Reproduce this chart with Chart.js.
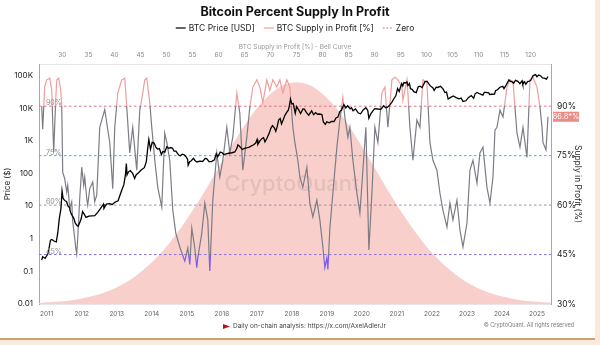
<!DOCTYPE html>
<html>
<head>
<meta charset="utf-8">
<title>Bitcoin Percent Supply In Profit</title>
<script src="https://cdn.jsdelivr.net/npm/chart.js@4.4.1/dist/chart.umd.min.js"></script>
<style>
  html, body { margin: 0; padding: 0; background: #fbe9dc; }
  #card {
    position: absolute; left: 0; top: 0;
    width: 595px; height: 338px;
    background: #fff;
    border-bottom: 2px solid #c9a47c;
  }
  #card canvas { display: block; }
</style>
</head>
<body>
<div id="card"><canvas id="sip" width="595" height="338"></canvas></div>
<script>
(function () {
  'use strict';

  // ── BTC price (USD), date -> price ──
  var PRICE_DATES = [
    '2010-11-09', '2010-11-20', '2010-12-15', '2011-01-15', '2011-02-10', '2011-02-25',
    '2011-03-15', '2011-04-10', '2011-04-25', '2011-05-10', '2011-05-28', '2011-06-09',
    '2011-06-20', '2011-07-10', '2011-07-25', '2011-08-10', '2011-08-25', '2011-09-10',
    '2011-09-25', '2011-10-10', '2011-10-25', '2011-11-15', '2011-11-25', '2011-12-10',
    '2011-12-25', '2012-01-10', '2012-01-25', '2012-02-15', '2012-03-15', '2012-04-15',
    '2012-05-15', '2012-06-15', '2012-07-15', '2012-08-15', '2012-08-20', '2012-09-15',
    '2012-10-15', '2012-11-15', '2012-12-15', '2013-01-15', '2013-01-31', '2013-02-20',
    '2013-03-15', '2013-03-31', '2013-04-10', '2013-04-17', '2013-05-01', '2013-05-20',
    '2013-06-15', '2013-07-05', '2013-07-20', '2013-08-15', '2013-09-15', '2013-10-15',
    '2013-11-05', '2013-11-20', '2013-12-01', '2013-12-18', '2014-01-05', '2014-01-25',
    '2014-02-15', '2014-03-01', '2014-03-20', '2014-04-10', '2014-04-25', '2014-05-15',
    '2014-06-05', '2014-06-25', '2014-07-15', '2014-08-05', '2014-08-20', '2014-09-10',
    '2014-09-25', '2014-10-10', '2014-10-25', '2014-11-15', '2014-12-05', '2014-12-25',
    '2015-01-10', '2015-01-15', '2015-02-01', '2015-02-15', '2015-03-10', '2015-03-25',
    '2015-04-15', '2015-05-15', '2015-06-15', '2015-07-10', '2015-07-25', '2015-08-20',
    '2015-09-15', '2015-10-15', '2015-11-04', '2015-11-20', '2015-12-15', '2016-01-05',
    '2016-01-20', '2016-02-15', '2016-03-15', '2016-04-15', '2016-05-15', '2016-06-05',
    '2016-06-17', '2016-07-05', '2016-08-02', '2016-08-20', '2016-09-15', '2016-10-15',
    '2016-11-05', '2016-11-25', '2016-12-20', '2017-01-04', '2017-01-12', '2017-02-01',
    '2017-02-25', '2017-03-10', '2017-03-25', '2017-04-15', '2017-05-10', '2017-05-25',
    '2017-06-12', '2017-07-01', '2017-07-16', '2017-08-01', '2017-08-15', '2017-09-01',
    '2017-09-15', '2017-10-01', '2017-10-20', '2017-11-08', '2017-11-25', '2017-12-05',
    '2017-12-17', '2018-01-01', '2018-01-15', '2018-02-06', '2018-02-20', '2018-03-10',
    '2018-04-01', '2018-04-25', '2018-05-10', '2018-05-30', '2018-06-25', '2018-07-25',
    '2018-08-15', '2018-09-05', '2018-09-25', '2018-10-15', '2018-11-10', '2018-11-25',
    '2018-12-15', '2018-12-30', '2019-01-25', '2019-02-20', '2019-03-15', '2019-04-05',
    '2019-04-25', '2019-05-15', '2019-06-01', '2019-06-26', '2019-07-15', '2019-08-05',
    '2019-08-30', '2019-09-15', '2019-09-30', '2019-10-26', '2019-11-25', '2019-12-18',
    '2020-01-15', '2020-02-12', '2020-03-01', '2020-03-13', '2020-04-01', '2020-04-30',
    '2020-05-15', '2020-06-15', '2020-07-15', '2020-08-15', '2020-09-05', '2020-09-25',
    '2020-10-21', '2020-11-10', '2020-11-30', '2020-12-20', '2021-01-08', '2021-01-25',
    '2021-02-10', '2021-02-21', '2021-03-01', '2021-03-13', '2021-04-01', '2021-04-14',
    '2021-04-25', '2021-05-10', '2021-05-20', '2021-06-10', '2021-06-25', '2021-07-20',
    '2021-08-10', '2021-08-30', '2021-09-20', '2021-10-20', '2021-11-10', '2021-11-28',
    '2021-12-15', '2022-01-10', '2022-01-24', '2022-02-15', '2022-03-01', '2022-03-30',
    '2022-04-25', '2022-05-15', '2022-06-01', '2022-06-18', '2022-07-10', '2022-08-10',
    '2022-09-10', '2022-10-10', '2022-11-01', '2022-11-21', '2022-12-20', '2023-01-15',
    '2023-02-15', '2023-03-10', '2023-03-25', '2023-04-15', '2023-05-15', '2023-06-15',
    '2023-06-30', '2023-07-15', '2023-08-15', '2023-08-25', '2023-09-15', '2023-10-15',
    '2023-10-25', '2023-11-15', '2023-12-10', '2024-01-10', '2024-01-22', '2024-02-15',
    '2024-03-13', '2024-03-25', '2024-04-15', '2024-05-01', '2024-05-20', '2024-06-15',
    '2024-07-05', '2024-07-28', '2024-08-05', '2024-08-25', '2024-09-06', '2024-09-28',
    '2024-10-15', '2024-10-29', '2024-11-12', '2024-11-22', '2024-12-17', '2024-12-30',
    '2025-01-20', '2025-02-10', '2025-02-28', '2025-03-15', '2025-04-08', '2025-04-23'
  ];
  var PRICE_USD = [
    0.22, 0.28, 0.25, 0.35, 0.9, 0.95,
    0.85, 0.8, 1.5, 4, 8.5, 29,
    17, 14.5, 13.8, 10, 9, 6,
    5, 4.2, 3, 2.5, 2.4, 3.1,
    4, 6.8, 5.8, 4.5, 4.9, 5,
    5.1, 6.4, 8.5, 11.5, 8.5, 11.5,
    11.8, 11.2, 13.3, 14.5, 20, 29,
    46, 93, 200, 90, 110, 122,
    100, 70, 90, 105, 130, 150,
    230, 600, 1100, 550, 900, 850,
    620, 560, 580, 380, 470, 450,
    650, 590, 620, 590, 480, 480,
    410, 360, 350, 390, 370, 320,
    270, 180, 230, 240, 290, 250,
    225, 238, 232, 290, 285, 230,
    230, 260, 400, 325, 450, 430,
    380, 400, 415, 430, 455, 580,
    750, 670, 540, 580, 610, 640,
    700, 740, 850, 1100, 780, 980,
    1180, 1250, 930, 1190, 1750, 2400,
    2900, 2500, 1950, 2750, 4300, 4800,
    3300, 4300, 6000, 7400, 8700, 11600,
    19000, 13500, 13800, 7000, 11200, 9000,
    6800, 9500, 9300, 7400, 6100, 8300,
    6300, 7300, 6500, 6600, 6400, 3800,
    3200, 3800, 3550, 3900, 3900, 5000,
    5300, 8000, 8600, 12900, 10200, 11800,
    9500, 10300, 8300, 9500, 7100, 6700,
    8800, 10300, 8600, 4900, 6600, 8700,
    9700, 9400, 9200, 11800, 10200, 10700,
    12800, 15300, 19400, 23800, 40000, 32300,
    46000, 57000, 48000, 61000, 59000, 63500,
    49000, 57000, 40000, 37000, 32000, 29800,
    45000, 47000, 43000, 65000, 67000, 56000,
    48000, 42000, 35000, 44000, 43000, 47000,
    39000, 30000, 31000, 19000, 21000, 23500,
    21000, 19300, 20400, 16000, 16800, 20900,
    24300, 20100, 27500, 30300, 27200, 25100,
    30400, 30200, 29300, 26000, 26600, 27000,
    34400, 36500, 43800, 46500, 39800, 51800,
    73000, 67000, 63500, 58000, 71000, 66000,
    56000, 69000, 54000, 64000, 54000, 65800,
    67000, 72300, 88000, 99000, 106000, 92000,
    104000, 97000, 84000, 83000, 77000, 93500
  ];

  // ── BTC supply in profit (%), decimal year -> percent ──
  var SUPPLY_YEARS = [
    2010.857, 2010.886, 2010.943, 2011.000, 2011.086, 2011.143, 2011.200, 2011.257,
    2011.286, 2011.343, 2011.400, 2011.429, 2011.457, 2011.514, 2011.571, 2011.600,
    2011.657, 2011.714, 2011.743, 2011.800, 2011.829, 2011.857, 2011.886, 2011.943,
    2012.000, 2012.057, 2012.086, 2012.143, 2012.171, 2012.229, 2012.314, 2012.371,
    2012.429, 2012.514, 2012.657, 2012.800, 2012.886, 2012.943, 2013.029, 2013.143,
    2013.229, 2013.286, 2013.371, 2013.457, 2013.571, 2013.657, 2013.743, 2013.800,
    2013.857, 2013.943, 2014.000, 2014.086, 2014.171, 2014.286, 2014.371, 2014.429,
    2014.514, 2014.600, 2014.686, 2014.800, 2014.943, 2015.029, 2015.086, 2015.143,
    2015.229, 2015.286, 2015.314, 2015.429, 2015.514, 2015.600, 2015.657, 2015.743,
    2015.857, 2015.943, 2016.029, 2016.143, 2016.229, 2016.314, 2016.429, 2016.514,
    2016.600, 2016.714, 2016.800, 2016.886, 2017.000, 2017.086, 2017.171, 2017.286,
    2017.371, 2017.457, 2017.571, 2017.657, 2017.743, 2017.857, 2017.943, 2018.029,
    2018.086, 2018.171, 2018.229, 2018.314, 2018.429, 2018.514, 2018.600, 2018.714,
    2018.800, 2018.886, 2018.943, 2019.000, 2019.029, 2019.086, 2019.171, 2019.286,
    2019.371, 2019.457, 2019.514, 2019.600, 2019.657, 2019.743, 2019.857, 2019.943,
    2020.029, 2020.114, 2020.200, 2020.286, 2020.371, 2020.457, 2020.571, 2020.657,
    2020.743, 2020.857, 2020.943, 2021.029, 2021.143, 2021.171, 2021.286, 2021.314,
    2021.371, 2021.457, 2021.571, 2021.657, 2021.743, 2021.857, 2021.943, 2022.029,
    2022.143, 2022.229, 2022.314, 2022.429, 2022.514, 2022.600, 2022.714, 2022.800,
    2022.886, 2023.000, 2023.086, 2023.171, 2023.286, 2023.371, 2023.457, 2023.571,
    2023.657, 2023.743, 2023.800, 2023.857, 2023.943, 2024.029, 2024.143, 2024.229,
    2024.314, 2024.429, 2024.514, 2024.600, 2024.714, 2024.800, 2024.886, 2025.000,
    2025.086, 2025.143, 2025.171, 2025.257, 2025.314
  ];
  var SUPPLY_PCT = [
    90, 83, 96, 98, 98.5, 95, 76, 92,
    98, 98.5, 95, 90, 70, 68, 64, 66,
    59, 61, 55, 50, 47, 45.2, 50, 62,
    71.5, 66, 68.5, 62, 60, 65, 67, 61,
    63, 83.6, 89, 79, 65, 83.6, 94, 98,
    98.5, 89.7, 75.8, 83.6, 70.6, 88.8, 94, 98,
    98.5, 91, 83.6, 73.6, 65.4, 59.4, 81.8, 79,
    73.6, 58.5, 51.5, 47.3, 43, 47, 42, 53,
    47, 41, 44, 51.5, 60.6, 55.5, 40, 61.5,
    75.8, 68.5, 73.6, 83.6, 75.8, 80.6, 94, 87.9,
    70.6, 80.6, 89.7, 95.8, 98, 95.8, 91, 98,
    94.8, 98, 95.8, 98, 94, 98, 95.8, 83.6,
    79, 73.6, 68.5, 65.4, 71.5, 60.6, 56.4, 61.5,
    55.5, 47.3, 41, 44, 40.5, 53, 63.6, 77.6,
    85.8, 92.7, 86.7, 80.6, 83.6, 73.6, 63.6, 57.6,
    70.6, 83.6, 46.4, 63.6, 83.6, 79, 94, 95.8,
    83.6, 98, 98.8, 98, 95.8, 91.8, 98, 94,
    83.6, 73.6, 85.8, 83.6, 98, 97, 79, 73.6,
    70.6, 63.6, 58.5, 53.3, 60.6, 55.5, 61.5, 52.4,
    47.3, 54.5, 70.6, 73.6, 66.7, 75.8, 77.6, 65.4,
    60.6, 68.5, 82.7, 83.6, 88.8, 86.7, 95.8, 98,
    97.5, 81.8, 77.6, 83.6, 74.5, 98, 98.8, 95.8,
    89.7, 83.6, 79, 76.7, 86.8
  ];

  // ── Bell curve: supply-in-profit bucket (top axis) -> height on % axis ──
  var BELL_BUCKET = [
    25, 27.5, 30, 32.5, 35, 37.5, 40, 42.5, 45, 47.5, 50, 52.5, 55, 57.5, 60, 62.5, 65, 67.5, 70, 72.5,
    75, 77.5, 80, 82.5, 85, 87.5, 90, 92.5, 95, 97.5, 100, 102.5, 105, 107.5, 110, 112.5, 115, 117.5,
    120, 122.5, 125
  ];
  var BELL_HEIGHT = [
    30.3, 30.5, 30.8, 31.3, 32.1, 33.2, 34.7, 36.8, 39.6, 43.1, 47.4, 52.5, 58.3, 64.6, 71.3, 77.9, 84.2, 89.6, 93.7, 96.4,
    97.3, 96.4, 93.7, 89.6, 84.2, 77.9, 71.3, 64.6, 58.3, 52.5, 47.4, 43.1, 39.6, 36.8, 34.7, 33.2, 32.1, 31.3,
    30.8, 30.5, 30.3
  ];

  // ── Reference levels on the % axis ──
  var LEVELS = [90, 75, 60, 45];
  var LEVEL_LABELS = ['90%', '75%', '60%', '45%'];
  var LEVEL_COLORS = ['#e2707f', '#3fb0ea', '#9c8aae', '#8a6ee0'];

  // ── Axis ticks ──
  var YEAR_TICKS = [2011, 2012, 2013, 2014, 2015, 2016, 2017, 2018, 2019, 2020, 2021, 2022, 2023, 2024, 2025];
  var BELL_TICKS = [30, 35, 40, 45, 50, 55, 60, 65, 70, 75, 80, 85, 90, 95, 100, 105, 110, 115, 120];
  var PRICE_TICKS = [0.01, 0.1, 1, 10, 100, 1000, 10000, 100000];
  var PRICE_TICK_LABELS = ['0.01', '0.1', '1', '10', '100', '1K', '10K', '100K'];
  var PCT_TICKS = [30, 45, 60, 75, 90];
  var LAST_LABEL = '86.8*%';

  // ── Axis ranges ──
  var X_MIN = 2010.78, X_MAX = 2025.4;
  var BELL_MIN = 25.5, BELL_MAX = 123.9;

  var COLORS = {
    price:    '#000000',
    high:     '#f29c9c',
    mid:      '#7c7c85',
    low:      '#7b5cf0',
    bell:     '#f8cfca',
    zero:     '#e06f7a',
    text:     '#222222',
    muted:    '#8a8a8a',
    axis:     '#a8a8a8',
    frame:    '#e6e6e6',
    badge:    '#ec8a85'
  };

  var FONT = 'Inter, "Noto Sans", "DejaVu Sans", sans-serif';
  Chart.defaults.font.family = FONT;

  function toYear(s) {
    var p = s.split('-');
    return +p[0] + (+p[1] - 1) / 12 + (+p[2] - 1) / 365;
  }

  function pairs(xs, ys) {
    var out = [];
    for (var i = 0; i < xs.length; i++) out.push({ x: xs[i], y: ys[i] });
    return out;
  }

  function fixedTicks(values) {
    return function (scale) {
      scale.ticks = values.map(function (v) { return { value: v }; });
    };
  }

  // Supply line: pink above 90%, grey in between, purple below 45%
  function supplyColor(ctx) {
    var chart = ctx.chart, area = chart.chartArea;
    if (!area) return COLORS.mid;
    var s = chart.scales.y2;
    var h = area.bottom - area.top;
    var a = Math.min(1, Math.max(0, (s.getPixelForValue(90) - area.top) / h));
    var b = Math.min(1, Math.max(0, (s.getPixelForValue(45) - area.top) / h));
    var g = chart.ctx.createLinearGradient(0, area.top, 0, area.bottom);
    g.addColorStop(0, COLORS.high);
    g.addColorStop(a, COLORS.high);
    g.addColorStop(a, COLORS.mid);
    g.addColorStop(b, COLORS.mid);
    g.addColorStop(b, COLORS.low);
    g.addColorStop(1, COLORS.low);
    return g;
  }

  var datasets = [
    {
      label: 'BTC Price [USD]',
      data: pairs(PRICE_DATES.map(toYear), PRICE_USD),
      xAxisID: 'x', yAxisID: 'y',
      borderColor: COLORS.price,
      borderWidth: 1.3,
      pointRadius: 0,
      tension: 0,
      order: 1
    },
    {
      label: 'BTC Supply in Profit [%]',
      data: pairs(SUPPLY_YEARS, SUPPLY_PCT),
      xAxisID: 'x', yAxisID: 'y2',
      borderColor: supplyColor,
      borderWidth: 1.2,
      pointRadius: 0,
      tension: 0,
      order: 2
    }
  ];

  for (var li = 0; li < LEVELS.length; li++) {
    datasets.push({
      label: 'level ' + LEVEL_LABELS[li],
      data: [{ x: X_MIN, y: LEVELS[li] }, { x: X_MAX, y: LEVELS[li] }],
      xAxisID: 'x', yAxisID: 'y2',
      borderColor: LEVEL_COLORS[li],
      borderWidth: 1,
      borderDash: [2.5, 2.5],
      pointRadius: 0,
      order: 5
    });
  }

  datasets.push({
    label: 'Bell',
    data: pairs(BELL_BUCKET, BELL_HEIGHT),
    xAxisID: 'x2', yAxisID: 'y2',
    borderColor: COLORS.bell,
    backgroundColor: COLORS.bell,
    borderWidth: 0,
    fill: 'start',
    pointRadius: 0,
    tension: 0.4,
    cubicInterpolationMode: 'monotone',
    order: 10
  });

  // Legend entries drawn above the bell-curve axis
  var LEGEND = [
    { text: 'BTC Price [USD]', color: COLORS.price, dash: [] },
    { text: 'BTC Supply in Profit [%]', color: COLORS.high, dash: [] },
    { text: 'Zero', color: COLORS.zero, dash: [2, 1.5] }
  ];

  var overlay = {
    id: 'overlay',
    afterDatasetDraw: function (chart, args) {
      if (chart.data.datasets[args.index].label !== 'Bell') return;
      var ctx = chart.ctx, area = chart.chartArea;
      ctx.save();
      ctx.font = '500 22px ' + FONT;
      ctx.fillStyle = 'rgba(110,110,110,0.16)';
      ctx.textAlign = 'center';
      ctx.textBaseline = 'middle';
      ctx.fillText('CryptoQuant', (area.left + area.right) / 2 - 3, (area.top + area.bottom) / 2);
      ctx.restore();
    },
    afterDatasetsDraw: function (chart) {
      var ctx = chart.ctx, area = chart.chartArea, s = chart.scales.y2;
      ctx.save();
      ctx.font = '7px ' + FONT;
      ctx.fillStyle = '#8c8c8c';
      ctx.textAlign = 'left';
      ctx.textBaseline = 'middle';
      for (var i = 0; i < LEVELS.length; i++) {
        ctx.fillText(LEVEL_LABELS[i], area.left + 7, s.getPixelForValue(LEVELS[i]) - 3);
      }
      ctx.restore();
    },
    afterDraw: function (chart) {
      var ctx = chart.ctx, area = chart.chartArea, s = chart.scales.y2;
      ctx.save();

      // legend
      ctx.font = '8.5px ' + FONT;
      ctx.textBaseline = 'middle';
      ctx.textAlign = 'left';
      var lineW = 10, gap = 3, itemGap = 9, total = 0, k;
      for (k = 0; k < LEGEND.length; k++) {
        total += lineW + gap + ctx.measureText(LEGEND[k].text).width + (k ? itemGap : 0);
      }
      var lx = (area.left + area.right) / 2 - total / 2, ly = 28;
      for (k = 0; k < LEGEND.length; k++) {
        var it = LEGEND[k];
        ctx.strokeStyle = it.color;
        ctx.lineWidth = 1.2;
        ctx.setLineDash(it.dash);
        ctx.beginPath();
        ctx.moveTo(lx, ly);
        ctx.lineTo(lx + lineW, ly);
        ctx.stroke();
        ctx.setLineDash([]);
        ctx.fillStyle = COLORS.text;
        ctx.fillText(it.text, lx + lineW + gap, ly);
        lx += lineW + gap + ctx.measureText(it.text).width + itemGap;
      }

      // last-value badge on the % axis
      var last = SUPPLY_PCT[SUPPLY_PCT.length - 1];
      var by = s.getPixelForValue(last);
      ctx.fillStyle = COLORS.badge;
      ctx.fillRect(area.right + 2, by - 5, 26, 10);
      ctx.fillStyle = '#ffffff';
      ctx.font = '7.5px ' + FONT;
      ctx.textAlign = 'center';
      ctx.fillText(LAST_LABEL, area.right + 15, by + 0.5);

      // footer
      ctx.fillStyle = '#b3171b';
      ctx.beginPath();
      ctx.moveTo(223, 324);
      ctx.lineTo(230, 326.5);
      ctx.lineTo(223, 329);
      ctx.closePath();
      ctx.fill();
      ctx.font = '6.5px ' + FONT;
      ctx.fillStyle = '#444';
      ctx.textAlign = 'left';
      ctx.fillText('Daily on-chain analysis: https://x.com/AxelAdlerJr', 233, 326.5);
      ctx.font = '5.5px ' + FONT;
      ctx.fillStyle = '#7a7a7a';
      ctx.textAlign = 'right';
      ctx.fillText('\u00a9 CryptoQuant. All rights reserved', 574, 325);
      ctx.restore();
    }
  };

  new Chart(document.getElementById('sip').getContext('2d'), {
    type: 'line',
    data: { datasets: datasets },
    plugins: [overlay],
    options: {
      responsive: false,
      animation: false,
      devicePixelRatio: 1,
      layout: { padding: { left: 0, right: 0, top: 0, bottom: 18 } },
      plugins: {
        legend: { display: false },
        tooltip: { enabled: false },
        title: {
          display: true,
          fullSize: false,
          text: 'Bitcoin Percent Supply In Profit',
          color: '#111',
          font: { size: 12.5, weight: 'bold' },
          padding: { top: 4.5, bottom: 2 }
        }
      },
      scales: {
        x: {
          type: 'linear',
          position: 'bottom',
          min: X_MIN, max: X_MAX,
          afterBuildTicks: fixedTicks(YEAR_TICKS),
          afterFit: function (s) { s.height = 16; },
          ticks: {
            color: '#666', font: { size: 6.5 }, padding: 6,
            autoSkip: false, maxRotation: 0,
            callback: function (v) { return String(v); }
          },
          grid: { display: false, drawTicks: false },
          border: { display: true, color: COLORS.frame }
        },
        x2: {
          type: 'linear',
          position: 'top',
          min: BELL_MIN, max: BELL_MAX,
          afterBuildTicks: fixedTicks(BELL_TICKS),
          afterFit: function (s) { s.height = 42.5; },
          ticks: {
            color: COLORS.muted, font: { size: 6.5 }, padding: 5,
            autoSkip: false, maxRotation: 0,
            callback: function (v) { return String(v); }
          },
          title: {
            display: true,
            text: 'BTC Supply in Profit [%] - Bell Curve',
            color: '#999',
            font: { size: 6.5 },
            padding: { top: 21.6, bottom: 0 }
          },
          grid: { display: false, drawTicks: false },
          border: { display: true, color: COLORS.frame }
        },
        y: {
          type: 'logarithmic',
          position: 'left',
          min: 0.01, max: 225000,
          afterBuildTicks: fixedTicks(PRICE_TICKS),
          afterFit: function (s) { s.width = 39; },
          ticks: {
            color: COLORS.text, font: { size: 8 }, padding: 6, autoSkip: false,
            callback: function (v) { return PRICE_TICK_LABELS[PRICE_TICKS.indexOf(v)]; }
          },
          title: {
            display: true, text: 'Price ($)', color: COLORS.text,
            font: { size: 8 }, padding: { top: 3, bottom: 0 }
          },
          grid: { display: false, drawTicks: false },
          border: { display: true, color: COLORS.axis }
        },
        y2: {
          type: 'linear',
          position: 'right',
          min: 30, max: 102.8,
          afterBuildTicks: fixedTicks(PCT_TICKS),
          afterFit: function (s) { s.width = 44; },
          ticks: {
            color: COLORS.text, font: { size: 8.5 }, padding: 6, autoSkip: false,
            callback: function (v) { return v + '%'; }
          },
          title: {
            display: true, text: 'Supply in Profit (%)', color: COLORS.text,
            font: { size: 8.5 }, padding: { top: 12, bottom: 0 }
          },
          grid: { display: false, drawTicks: false },
          border: { display: true, color: COLORS.axis }
        }
      }
    }
  });
})();
</script>
</body>
</html>
